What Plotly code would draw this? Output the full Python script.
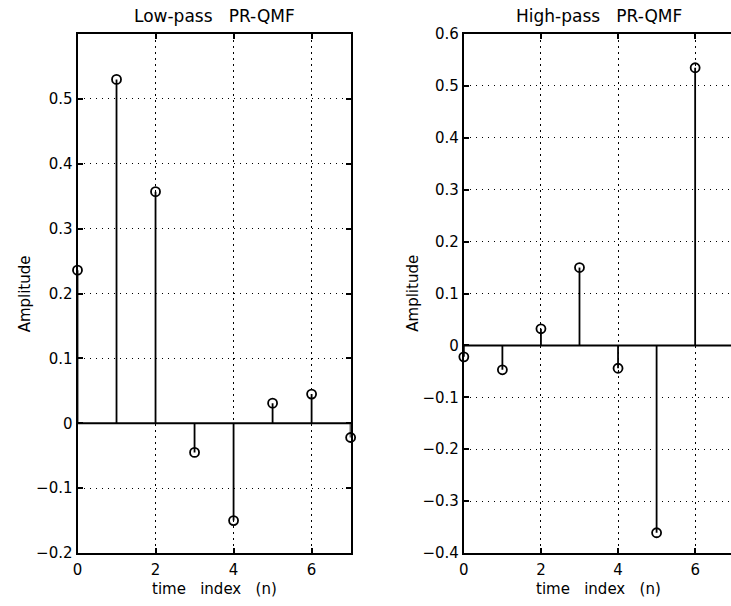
import plotly.graph_objects as go

n = [0, 1, 2, 3, 4, 5, 6, 7]
h_low = [0.236, 0.530, 0.357, -0.045, -0.150, 0.031, 0.045, -0.022]
h_high = [-0.022, -0.047, 0.032, 0.150, -0.044, -0.361, 0.535, -0.238]

x_ticks = [0, 2, 4, 6]
y_ticks_low = [-0.2, -0.1, 0, 0.1, 0.2, 0.3, 0.4, 0.5]
y_text_low = ["\u22120.2", "\u22120.1", "0", "0.1", "0.2", "0.3", "0.4", "0.5"]
y_ticks_high = [-0.4, -0.3, -0.2, -0.1, 0, 0.1, 0.2, 0.3, 0.4, 0.5, 0.6]
y_text_high = ["\u22120.4", "\u22120.3", "\u22120.2", "\u22120.1", "0", "0.1", "0.2", "0.3", "0.4", "0.5", "0.6"]

titles = ["Low-pass   PR-QMF", "High-pass   PR-QMF"]
x_title = "time   index   (n)"
y_title = "Amplitude"

FONT = "DejaVu Sans, Verdana, sans-serif"
FS = 15
W, H = 731, 606


def stems(xs, ys):
    sx, sy = [], []
    for a, b in zip(xs, ys):
        sx += [a, a, None]
        sy += [0, b, None]
    return sx, sy


fig = go.Figure()
for i, vals in enumerate([h_low, h_high]):
    xa = "x" if i == 0 else "x2"
    ya = "y" if i == 0 else "y2"
    sx, sy = stems(n, vals)
    fig.add_trace(go.Scatter(x=[n[0], n[-1]], y=[0, 0], mode="lines",
                             line=dict(color="black", width=2),
                             xaxis=xa, yaxis=ya, showlegend=False,
                             hoverinfo="skip", cliponaxis=False))
    fig.add_trace(go.Scatter(x=sx, y=sy, mode="lines",
                             line=dict(color="black", width=1.8),
                             xaxis=xa, yaxis=ya, showlegend=False,
                             hoverinfo="skip", cliponaxis=False))
    fig.add_trace(go.Scatter(x=n, y=vals, mode="markers",
                             marker=dict(symbol="circle-open", size=9,
                                         color="black", line=dict(width=1.8)),
                             xaxis=xa, yaxis=ya, showlegend=False,
                             cliponaxis=False))

dom_l = [73 / W, 348 / W]
dom_r = [462 / W, 1.0]

common = dict(showgrid=True, gridcolor="black", griddash="1.5px,4.5px", gridwidth=1.2,
              showline=True, linecolor="black", linewidth=2,
              ticks="inside", ticklen=5, tickcolor="black", tickwidth=1.5,
              zeroline=False,
              tickfont=dict(family=FONT, size=FS, color="black"))

fig.update_layout(
    width=W, height=H,
    margin=dict(l=0, r=0, t=34, b=53),
    paper_bgcolor="white", plot_bgcolor="white",
    font=dict(family=FONT, size=FS, color="black"),
    xaxis=dict(domain=dom_l, range=[0, 7], mirror="ticks", anchor="y",
               tickvals=x_ticks, ticklabelstandoff=2, **common),
    yaxis=dict(domain=[0, 1], range=[-0.2, 0.6], mirror="ticks", anchor="x",
               tickvals=y_ticks_low, ticktext=y_text_low, **common),
    xaxis2=dict(domain=dom_r, range=[0, 6.93], mirror="ticks", anchor="y2",
                tickvals=x_ticks, ticklabelstandoff=2, **common),
    yaxis2=dict(domain=[0, 1], range=[-0.4, 0.6], mirror=False, anchor="x2",
                tickvals=y_ticks_high, ticktext=y_text_high, **common),
)

centers = [(dom_l[0] + dom_l[1]) / 2, (462 + 734) / 2 / W]
ytitle_x = [20 / W, 410 / W]
for i in range(2):
    fig.add_annotation(text=titles[i], xref="paper", yref="paper", x=centers[i], y=1,
                       xanchor="center", yanchor="middle", yshift=18, showarrow=False,
                       font=dict(family=FONT, size=17, color="black"))
    fig.add_annotation(text=x_title, xref="paper", yref="paper", x=centers[i], y=0,
                       xanchor="center", yanchor="middle", yshift=-36, showarrow=False,
                       font=dict(family=FONT, size=FS, color="black"))
    fig.add_annotation(text=y_title, xref="paper", yref="paper", x=ytitle_x[i], y=0.5,
                       xanchor="center", yanchor="middle", textangle=-90, showarrow=False,
                       font=dict(family=FONT, size=FS, color="black"))

fig.write_html("out.html")
